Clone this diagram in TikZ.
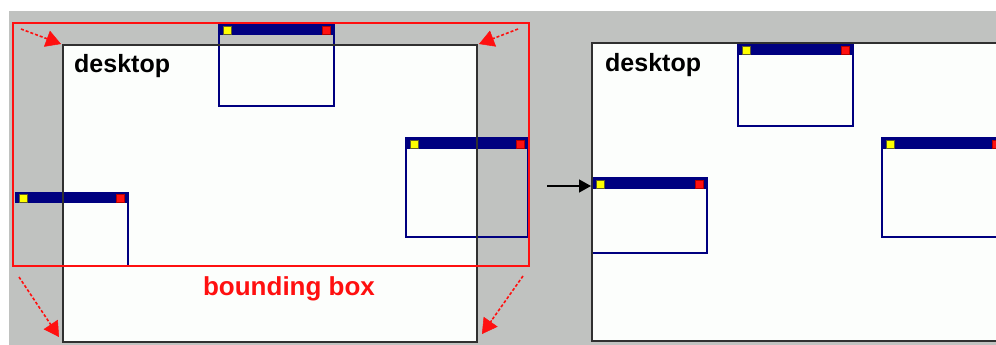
\documentclass[tikz,border=0pt]{standalone}
\usepackage{fontspec}
\setmainfont{Liberation Sans}
\usetikzlibrary{arrows.meta,calc}
\definecolor{bgray}{HTML}{C0C2C0}
\definecolor{navyc}{HTML}{000080}
\definecolor{redc}{HTML}{FF1010}
\definecolor{ylwc}{HTML}{FFFF00}
\definecolor{deskc}{HTML}{FCFEFC}
\definecolor{edgec}{HTML}{303030}
\newcommand\mytitlebar[3]{%
  \fill[navyc] (#1,#2) rectangle (#3,#2+11);
  \fill[ylwc,draw=olive!60!black,line width=0.4pt] (#1+4,#2+2) rectangle (#1+12,#2+10);
  \fill[redc,draw=red!70!black,line width=0.4pt] (#3-12,#2+2) rectangle (#3-4,#2+10);
}
\tikzset{
  winline/.style={draw=navyc, line width=1.6pt},
  deskfill/.style={fill=deskc},
  deskedge/.style={draw=edgec, line width=2pt},
  bbox/.style={draw=redc, line width=1.5pt},
  redline/.style={draw=redc, line width=1.6pt, dash pattern=on 3pt off 2pt},
  redtip/.style={draw=redc, fill=redc, line width=0.5pt, solid, -{Triangle[length=15pt,width=17pt]}},
  blackarrow/.style={draw=black, line width=1.4pt, -{Triangle[length=12pt,width=13pt]}},
  desklabel/.style={inner sep=0pt, anchor=base west, font=\fontsize{25}{30}\selectfont\bfseries},
  bblabel/.style={inner sep=0pt, anchor=base, text=redc, font=\fontsize{26}{30}\selectfont\bfseries}
}
\begin{document}
\begin{tikzpicture}[x=1pt,y=-1pt]
\useasboundingbox (0,0) rectangle (996,345);
\fill[white] (0,0) rectangle (996,345);
\fill[bgray] (9,11) rectangle (996,345);
\begin{scope}
\clip (0,0) rectangle (996,345);
% left panel desktop
\fill[deskfill] (63,45) rectangle (477,342);
% right panel desktop
\fill[deskfill] (592,43) rectangle (1010,341);
% left panel windows
\draw[winline] (219,24) rectangle (334,106);
\mytitlebar{219}{24}{334}
\draw[winline] (406,138) rectangle (528,237);
\mytitlebar{406}{138}{528}
\draw[winline] (128,192) -- (128,266);
\mytitlebar{15}{192}{128}
% right panel windows
\draw[winline] (738,44) rectangle (853,126);
\mytitlebar{738}{44}{853}
\draw[winline] (882,138) rectangle (1004,237);
\mytitlebar{882}{138}{1004}
\draw[winline] (592,178) rectangle (707,253);
\mytitlebar{592}{178}{707}
% desktop edges
\draw[deskedge] (63,45) rectangle (477,342);
\draw[deskedge] (1010,43) -- (592,43) -- (592,341) -- (1010,341);
\end{scope}
% bounding box
\draw[bbox] (13,23) rectangle (529,266);
\node[bblabel] (bb) at (289,295) {bounding box};
\node[desklabel] (d1) at (74,73) {desktop};
\node[desklabel] (d2) at (605,72) {desktop};
% arrows
\coordinate (a1s) at (21,29);  \coordinate (a1e) at (61,44);
\coordinate (a2s) at (518,29); \coordinate (a2e) at (479,44);
\coordinate (a3s) at (19,277); \coordinate (a3e) at (59,337);
\coordinate (a4s) at (523,276);\coordinate (a4e) at (482,334);
\foreach \s/\e in {a1s/a1e,a2s/a2e,a3s/a3e,a4s/a4e}{
  \draw[redline] (\s) -- ($(\e)!10pt!(\s)$);
  \draw[redtip] ($(\e)!17pt!(\s)$) -- (\e);
}
\coordinate (ms) at (547,186); \coordinate (me) at (591,186);
\draw[blackarrow] (ms) -- (me);
\end{tikzpicture}
\end{document}
